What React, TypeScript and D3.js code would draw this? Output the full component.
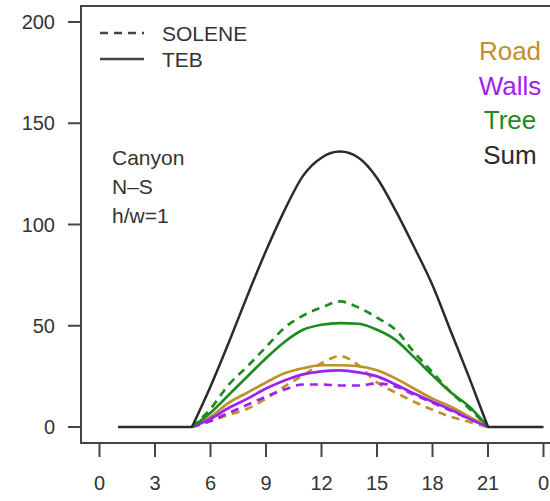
// App.tsx
import React, { useEffect, useRef } from "react";
import * as d3 from "d3";

// hours for the components (sunrise to sunset) and for the total
const compHours = [5, 6, 7, 8, 9, 10, 11, 12, 13, 14, 15, 16, 17, 18, 19, 20, 21];
const sumHours = [1, 2, 3, 4, 5, 6, 7, 8, 9, 10, 11, 12, 13, 14, 15, 16, 17, 18, 19, 20, 21, 22, 23, 24];

const roadTEB = [0, 5, 12, 17, 22, 26.5, 29, 30.5, 30.5, 30, 28, 24, 19, 14, 10, 5, 0];
const roadSOLENE = [0, 3, 6, 9, 14, 20, 25.5, 31.5, 35, 30.5, 22, 17, 12.5, 8.5, 5, 2.5, 0];
const wallsTEB = [0, 4, 9.5, 14, 19, 23, 26, 27.5, 28, 27, 25, 21, 16.5, 12.5, 8.5, 4, 0];
const wallsSOLENE = [0, 3, 7, 11, 15, 18.5, 21, 21, 20.5, 20.5, 21.5, 20, 16, 12, 8, 4, 0];
const treeTEB = [0, 7, 16, 25, 34, 42, 48, 50.5, 51.3, 51, 48, 43, 34.5, 25.5, 17, 10, 0];
const treeSOLENE = [0, 9, 21, 30, 39.5, 49, 55, 59, 62, 59, 54, 48, 37, 27, 17, 9, 0];
const sumTEB = [0, 0, 0, 0, 0, 20, 42, 65, 87, 107, 124, 133, 136, 133, 123, 107, 89, 70, 47, 24, 0, 0, 0, 0];

const xTicks = [0, 3, 6, 9, 12, 15, 18, 21, 24];
const xTickLabels = ["0", "3", "6", "9", "12", "15", "18", "21", "0"];
const yTicks = [0, 50, 100, 150, 200];

const legendNames = ["Road", "Walls", "Tree", "Sum"];
const colors = ["#c0902a", "#a020f0", "#1f8a1f", "#2b2b2b"];

const W = 550;
const H = 501;
const FONT = "'Liberation Sans', Arial, sans-serif";

const App = () => {
  const ref = useRef<SVGSVGElement>(null);

  useEffect(() => {
    const svg = d3.select(ref.current);
    svg.selectAll("*").remove();

    const x = d3.scaleLinear().domain([0, 24]).range([99.5, 543.5]);
    const y = d3.scaleLinear().domain([0, 200]).range([427, 22]);

    const axisColor = "#444";

    // frame: left, top, bottom (right side runs off the picture)
    svg.append("path")
      .attr("d", `M${W},6 H81 V443 H${W}`)
      .attr("fill", "none")
      .attr("stroke", axisColor)
      .attr("stroke-width", 2);

    // y axis ticks + labels
    yTicks.forEach((t) => {
      svg.append("line")
        .attr("x1", 68).attr("x2", 81)
        .attr("y1", y(t)).attr("y2", y(t))
        .attr("stroke", axisColor).attr("stroke-width", 2);
      svg.append("text")
        .attr("x", 55).attr("y", y(t))
        .attr("dy", "0.36em")
        .attr("text-anchor", "end")
        .attr("font-size", 20)
        .attr("font-family", FONT)
        .attr("fill", "#333")
        .text(t);
    });

    // x axis ticks + labels
    xTicks.forEach((t, i) => {
      svg.append("line")
        .attr("x1", x(t)).attr("x2", x(t))
        .attr("y1", 443).attr("y2", 457)
        .attr("stroke", axisColor).attr("stroke-width", 2);
      svg.append("text")
        .attr("x", x(t)).attr("y", 490)
        .attr("text-anchor", "middle")
        .attr("font-size", 20)
        .attr("font-family", FONT)
        .attr("fill", "#333")
        .text(xTickLabels[i]);
    });

    const compLine = d3.line<number>()
      .x((d, i) => x(compHours[i]))
      .y((d) => y(d))
      .curve(d3.curveMonotoneX);

    const series = [
      { data: roadSOLENE, color: colors[0], dash: "8,6" },
      { data: wallsSOLENE, color: colors[1], dash: "8,6" },
      { data: treeSOLENE, color: colors[2], dash: "8,6" },
      { data: roadTEB, color: colors[0], dash: null },
      { data: wallsTEB, color: colors[1], dash: null },
      { data: treeTEB, color: colors[2], dash: null },
    ];

    series.forEach((s) => {
      svg.append("path")
        .datum(s.data)
        .attr("fill", "none")
        .attr("stroke", s.color)
        .attr("stroke-width", 2.7)
        .attr("stroke-dasharray", s.dash)
        .attr("d", compLine);
    });

    // total (sum): flat night parts + smooth daytime part
    const pts: [number, number][] = sumHours.map((h, i) => [h, sumTEB[i]]);
    const sunrise = pts.findIndex((p, i) => p[1] === 0 && i + 1 < pts.length && pts[i + 1][1] > 0);
    const sunset = pts.findIndex((p, i) => i > sunrise && p[1] === 0);
    const pieces = [pts.slice(0, sunrise + 1), pts.slice(sunrise, sunset + 1), pts.slice(sunset)];

    const sumLine = d3.line<[number, number]>()
      .x((d) => x(d[0]))
      .y((d) => y(d[1]))
      .curve(d3.curveMonotoneX);

    pieces.forEach((p) => {
      svg.append("path")
        .datum(p)
        .attr("fill", "none")
        .attr("stroke", colors[3])
        .attr("stroke-width", 2.5)
        .attr("stroke-linejoin", "round")
        .attr("d", sumLine);
    });

    // line style legend
    const lg = [
      { label: "SOLENE", dash: "8,6", yy: 33 },
      { label: "TEB", dash: null, yy: 59 },
    ];
    lg.forEach((l) => {
      svg.append("line")
        .attr("x1", 100).attr("x2", 144)
        .attr("y1", l.yy).attr("y2", l.yy)
        .attr("stroke", "#444")
        .attr("stroke-width", 2.5)
        .attr("stroke-dasharray", l.dash);
      svg.append("text")
        .attr("x", 162).attr("y", l.yy)
        .attr("dy", "0.36em")
        .attr("font-size", 21)
        .attr("font-family", FONT)
        .attr("fill", "#333")
        .text(l.label);
    });

    // colour legend
    legendNames.forEach((n, i) => {
      svg.append("text")
        .attr("x", 510).attr("y", 60 + i * 34.5)
        .attr("text-anchor", "middle")
        .attr("font-size", 26)
        .attr("font-family", FONT)
        .attr("fill", colors[i])
        .text(n);
    });

    // case annotation
    ["Canyon", "N\u2013S", "h/w=1"].forEach((t, i) => {
      svg.append("text")
        .attr("x", 112).attr("y", 165 + i * 29)
        .attr("font-size", 21)
        .attr("font-family", FONT)
        .attr("fill", "#333")
        .text(t);
    });
  }, []);

  return (
    <svg
      ref={ref}
      width={W}
      height={H}
      style={{ position: "absolute", left: 0, top: 0, background: "#fff" }}
    />
  );
};

export default App;
